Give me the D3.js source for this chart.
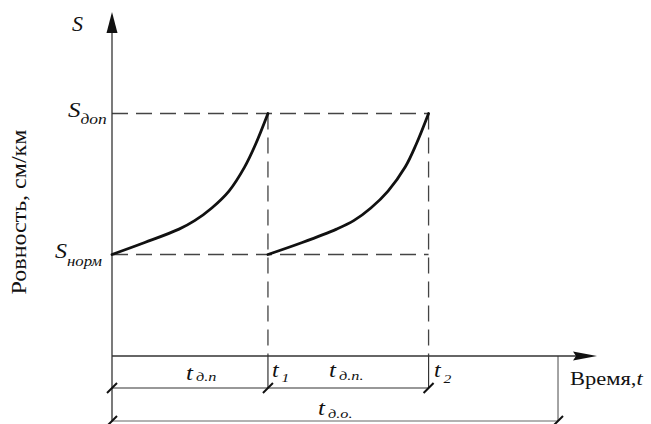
<!DOCTYPE html>
<html>
<head>
<meta charset="utf-8">
<script src="https://cdn.jsdelivr.net/npm/d3@7/dist/d3.min.js"></script>
<style>
  html, body { margin: 0; padding: 0; background: #fff; }
  svg { display: block; }
  text { font-family: "Liberation Serif", "Times New Roman", serif; fill: #111; }
</style>
</head>
<body>
<div id="chart"></div>
<script>
// Roughness growth between repairs: two service cycles
const cycle1Time = [0, 0.21, 0.43, 0.53, 0.64, 0.75, 0.85, 0.92, 1.0];
const cycle2Time = [1.0, 1.22, 1.44, 1.55, 1.66, 1.77, 1.88, 1.95, 2.03];
const roughness  = [0.72, 0.805, 0.90, 0.96, 1.05, 1.17, 1.34, 1.50, 1.72];

const sNorm = 0.72;   // S норм
const sDop = 1.72;    // S доп
const t1 = 1.0;
const t2 = 2.03;
const tTotal = 2.86;  // t д.о.
const tMax = 3.11;
const sMax = 2.44;

const W = 651, H = 424;
const svg = d3.select("#chart").append("svg").attr("width", W).attr("height", H);

const x = d3.scaleLinear().domain([0, tMax]).range([112, 597]);
const y = d3.scaleLinear().domain([0, sMax]).range([356, 12]);

const dimRow1 = 388, dimRow2 = 421;
const axisCol = "#333", dashCol = "#444";

// guide lines (dashed)
const dash = "16,8";
[sNorm, sDop].forEach(s => {
  svg.append("line").attr("x1", x(0)).attr("x2", x(t2))
    .attr("y1", y(s)).attr("y2", y(s))
    .attr("stroke", dashCol).attr("stroke-width", 1.3).attr("stroke-dasharray", dash);
});
[t1, t2].forEach(t => {
  svg.append("line").attr("x1", x(t)).attr("x2", x(t))
    .attr("y1", y(sDop)).attr("y2", y(0))
    .attr("stroke", dashCol).attr("stroke-width", 1.3).attr("stroke-dasharray", dash);
  // extension below axis
  svg.append("line").attr("x1", x(t)).attr("x2", x(t))
    .attr("y1", y(0)).attr("y2", dimRow1)
    .attr("stroke", axisCol).attr("stroke-width", 1.2);
});
svg.append("line").attr("x1", x(tTotal)).attr("x2", x(tTotal))
  .attr("y1", y(0)).attr("y2", dimRow2)
  .attr("stroke", "#666").attr("stroke-width", 1.2);

// axes
svg.append("line").attr("x1", x(0)).attr("x2", x(0))
  .attr("y1", dimRow2).attr("y2", y(sMax) + 12)
  .attr("stroke", axisCol).attr("stroke-width", 1.3);
svg.append("line").attr("x1", x(0)).attr("x2", x(tMax) - 14)
  .attr("y1", y(0)).attr("y2", y(0))
  .attr("stroke", axisCol).attr("stroke-width", 1.3);
// arrow heads
svg.append("path")
  .attr("d", `M${x(0)},${y(sMax)} L${x(0) + 5.5},${y(sMax) + 21} L${x(0) - 5.5},${y(sMax) + 21} Z`)
  .attr("fill", "#111");
svg.append("path")
  .attr("d", `M${x(tMax)},${y(0)} L${x(tMax) - 24},${y(0) - 4.5} L${x(tMax) - 21},${y(0)} L${x(tMax) - 24},${y(0) + 4.5} Z`)
  .attr("fill", "#111");

// dimension lines
svg.append("line").attr("x1", x(0)).attr("x2", x(t2)).attr("y1", dimRow1).attr("y2", dimRow1)
  .attr("stroke", axisCol).attr("stroke-width", 1.2);
svg.append("line").attr("x1", x(0)).attr("x2", x(tTotal)).attr("y1", dimRow2).attr("y2", dimRow2)
  .attr("stroke", "#666").attr("stroke-width", 1.2);
const slash = (px, py) => svg.append("line")
  .attr("x1", px - 5).attr("y1", py + 5).attr("x2", px + 5).attr("y2", py - 5)
  .attr("stroke", "#111").attr("stroke-width", 2);
[0, t1, t2].forEach(t => slash(x(t), dimRow1));
[0, tTotal].forEach(t => slash(x(t), dimRow2));

// roughness curves
const line = d3.line().x(d => x(d[0])).y(d => y(d[1])).curve(d3.curveCatmullRom.alpha(0.5));
[cycle1Time, cycle2Time].forEach(ts => {
  svg.append("path").datum(ts.map((t, i) => [t, roughness[i]]))
    .attr("d", line).attr("fill", "none")
    .attr("stroke", "#111").attr("stroke-width", 2.8).attr("stroke-linecap", "round");
});

// labels: main symbol with italic subscript
function label(px, py, main, sub, subDx, subDy, mainSize, subSize, sx) {
  const g = svg.append("g").attr("transform", `translate(${px},${py}) scale(${sx},1)`);
  g.append("text").attr("x", 0).attr("y", 0).attr("font-style", "italic")
    .attr("font-size", mainSize).text(main);
  if (sub) g.append("text").attr("x", subDx).attr("y", subDy).attr("font-style", "italic")
    .attr("font-size", subSize).text(sub);
}
label(72, 31, "S", null, 0, 0, 20, 14, 1.1);
label(68, 117, "S", "доп", 10, 7, 20, 14, 1.25);
label(55, 258, "S", "норм", 10, 8, 20, 14, 1.2);
label(186, 380, "t", "д.п", 8, 1, 20, 13, 1.25);
label(272, 377, "t", "1", 8, 5, 20, 13, 1.2);
label(329, 377, "t", "д.п.", 8, 3, 20, 13, 1.25);
label(434, 377, "t", "2", 8, 6, 20, 13, 1.2);
label(318, 415, "t", "д.о.", 8, 3, 20, 13, 1.25);

// x axis title
const xt = svg.append("text").attr("transform", "translate(570,385) scale(1.25,1)")
  .attr("font-size", 18).attr("fill", "#1a1a2e");
xt.append("tspan").text("Время,");
xt.append("tspan").attr("font-style", "italic").text("t");

// y axis title
svg.append("text")
  .attr("transform", "translate(26,212) rotate(-90) scale(1.2,1)")
  .attr("text-anchor", "middle").attr("font-size", 20)
  .text("Ровность, см/км");
</script>
</body>
</html>
